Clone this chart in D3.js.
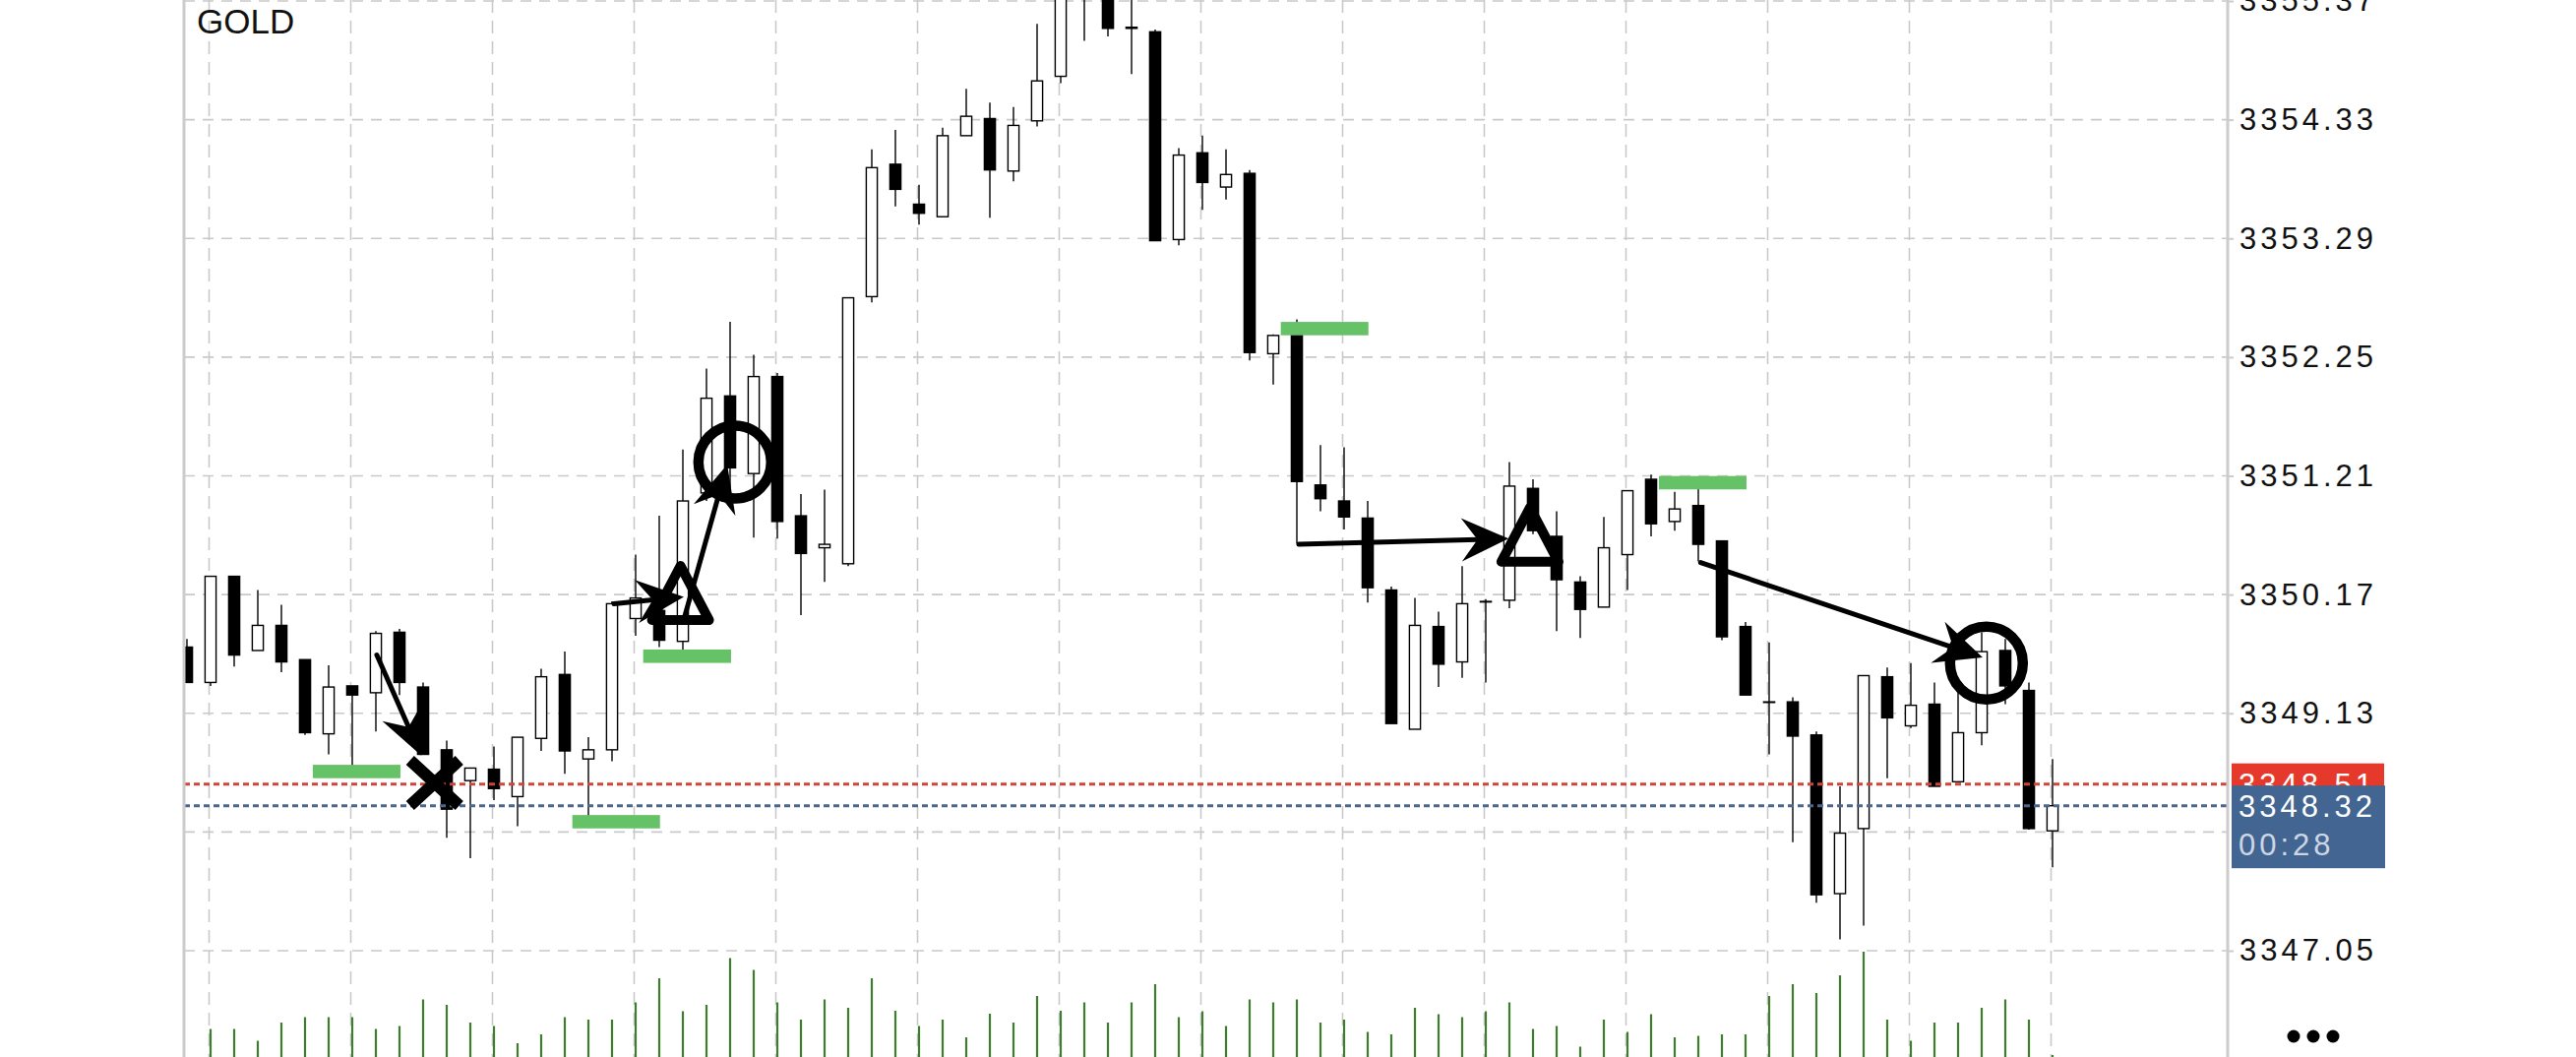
<!DOCTYPE html>
<html><head><meta charset="utf-8">
<script src="https://cdn.jsdelivr.net/npm/d3@7"></script>
<style>html,body{margin:0;padding:0;background:#fff;overflow:hidden}</style>
</head><body>
<svg id="chart" width="2618" height="1074"></svg>
<script>
// ---------------- DATA ----------------
const symbol = "GOLD";
const candleIndex = d3.range(80);
const open = [3349.71,3349.40,3350.33,3349.68,3349.90,3349.60,3348.95,3349.37,3349.31,3349.84,
3349.36,3348.81,3348.54,3348.64,3348.40,3348.91,3349.47,3348.73,3348.81,3349.96,
3350.03,3349.76,3351.06,3351.91,3351.23,3352.08,3350.86,3350.58,3350.44,3352.78,
3353.94,3353.59,3353.48,3354.19,3354.34,3353.88,3354.32,3354.71,3355.77,3355.55,
3355.13,3355.10,3353.28,3354.04,3353.74,3353.86,3352.28,3352.44,3351.13,3350.99,
3350.84,3350.21,3348.99,3349.89,3349.58,3350.11,3350.12,3351.10,3350.68,3350.28,
3350.06,3350.52,3351.18,3350.81,3350.95,3350.64,3349.89,3349.23,3349.23,3348.94,
3347.55,3348.12,3349.45,3349.02,3349.21,3348.53,3348.96,3349.68,3349.33,3348.10];
const high = [3349.78,3350.33,3350.33,3350.21,3350.08,3349.60,3349.55,3349.37,3349.85,3349.87,
3349.40,3348.89,3348.65,3348.84,3348.92,3349.52,3349.67,3348.92,3350.11,3350.52,
3350.86,3351.44,3352.15,3352.56,3352.27,3352.11,3351.05,3351.09,3352.77,3354.07,
3354.24,3353.76,3354.26,3354.60,3354.48,3354.44,3355.17,3355.64,3355.90,3355.64,
3355.46,3355.12,3354.08,3354.19,3354.07,3353.89,3352.45,3352.58,3351.48,3351.46,
3350.99,3350.24,3350.14,3350.02,3350.42,3350.13,3351.33,3351.18,3350.90,3350.33,
3350.85,3351.08,3351.22,3351.07,3351.10,3350.64,3349.93,3349.75,3349.27,3348.97,
3348.49,3349.46,3349.53,3349.57,3349.40,3349.34,3349.84,3349.78,3349.40,3348.73];
const low = [3349.40,3349.37,3349.54,3349.68,3349.49,3348.94,3348.77,3348.67,3348.97,3349.29,
3348.77,3348.04,3347.86,3348.37,3348.14,3348.80,3348.60,3348.23,3348.71,3349.81,
3349.71,3349.68,3350.99,3351.07,3350.67,3350.66,3349.99,3350.28,3350.42,3352.73,
3353.57,3353.41,3353.48,3354.19,3353.47,3353.79,3354.27,3354.65,3355.02,3355.06,
3354.73,3353.27,3353.23,3353.54,3353.63,3352.22,3352.01,3350.62,3350.90,3350.74,
3350.10,3349.04,3348.99,3349.36,3349.44,3349.40,3350.05,3350.70,3349.85,3349.79,
3350.06,3350.21,3350.68,3350.73,3350.46,3349.77,3349.29,3348.77,3348.00,3347.47,
3347.15,3347.27,3348.56,3349.00,3348.49,3348.53,3348.85,3349.21,3348.11,3347.78];
const close = [3349.40,3350.33,3349.64,3349.90,3349.58,3348.96,3349.36,3349.29,3349.83,3349.40,
3348.77,3348.29,3348.65,3348.47,3348.92,3349.45,3348.80,3348.81,3350.09,3350.14,
3349.77,3350.99,3351.89,3351.28,3352.08,3350.81,3350.53,3350.61,3352.77,3353.91,
3353.72,3353.51,3354.19,3354.36,3353.89,3354.28,3354.67,3355.51,3355.59,3355.13,
3355.14,3353.27,3354.02,3353.78,3353.85,3352.29,3352.44,3351.16,3351.01,3350.85,
3350.23,3349.04,3349.90,3349.56,3350.09,3350.11,3351.12,3350.73,3350.30,3350.04,
3350.58,3351.08,3350.79,3350.92,3350.61,3349.80,3349.29,3349.23,3348.93,3347.54,
3348.08,3349.46,3349.09,3349.20,3348.49,3348.96,3349.67,3349.37,3348.12,3348.32];
const volume = [40,129,129,105,142,153,153,153,129,135,
189,178,142,135,100,118,153,148,148,183,
232,165,178,273,249,183,148,189,172,232,
166,135,148,112,160,142,196,166,183,142,
183,220,153,165,135,189,183,189,142,148,
123,118,172,159,153,165,183,129,135,93,
148,123,159,112,115,118,118,196,220,202,
238,286,148,105,142,142,172,189,148,76];
const gridPrices = [3355.37,3354.33,3353.29,3352.25,3351.21,3350.17,3349.13,3348.09,3347.05];
const tickLabels = [3355.37,3354.33,3353.29,3352.25,3351.21,3350.17,3349.13,3347.05]; // 3348.09 sits under the price boxes
const gridCandles = d3.range(1, 80, 6);             // vertical grid every 6 bars
const askPrice = 3348.51, bidPrice = 3348.32, countdown = "00:28";
const greenFrom  = [5.33, 16.32, 19.32, 46.32, 62.33];
const greenTo    = [9.04, 20.03, 23.04, 50.03, 66.04];
const greenPrice = [3348.62, 3348.18, 3349.63, 3352.50, 3351.15];
const arrowFromI = [8.04, 18.08, 21.04, 47.08, 64.10];
const arrowFromP = [3349.64, 3350.09, 3349.95, 3350.61, 3350.45];
const arrowToI   = [9.92, 21.04, 22.88, 55.97, 76.04];
const arrowToP   = [3348.76, 3350.15, 3351.31, 3350.66, 3349.62];
const circleI = [23.2, 76.2], circleP = [3351.33, 3349.57];
const triangleI = [20.9, 56.87], triangleP = [3350.18, 3350.69];
const crossI = [10.49], crossP = [3348.52];

// ---------------- LAYOUT ----------------
const W = 2618, H = 1074, plotL = 187, plotR = 2264;
const x = d3.scaleLinear().domain([0, 79]).range([190, 2086]);
const y = d3.scaleLinear().domain([3347.05, 3355.37]).range([966, 1]);
const yVol = d3.scaleLinear().domain([0, 300]).range([1110, 960]);
const gridColor = "#c9c9c9";
const svg = d3.select("#chart");
svg.append("rect").attr("width", W).attr("height", H).attr("fill", "#fff");
svg.append("defs").append("clipPath").attr("id", "plot")
  .append("rect").attr("x", plotL).attr("y", 0).attr("width", plotR - plotL).attr("height", H);
const plot = svg.append("g").attr("clip-path", "url(#plot)");

// grid
plot.append("g").selectAll("line").data(gridPrices).join("line")
  .attr("x1", plotL).attr("x2", plotR).attr("y1", d => y(d)).attr("y2", d => y(d))
  .attr("stroke", gridColor).attr("stroke-width", 1.6).attr("stroke-dasharray", "11,8");
plot.append("g").selectAll("line").data(gridCandles).join("line")
  .attr("x1", d => x(d) - 1.5).attr("x2", d => x(d) - 1.5).attr("y1", 0).attr("y2", H)
  .attr("stroke", gridColor).attr("stroke-width", 1.6).attr("stroke-dasharray", "13,8");

// volumes
plot.append("g").selectAll("line").data(candleIndex).join("line")
  .attr("x1", i => x(i)).attr("x2", i => x(i))
  .attr("y1", yVol(0)).attr("y2", i => yVol(volume[i]))
  .attr("stroke", "#3f7d2e").attr("stroke-width", 2.2);

// candles
const bw = 11.2;
const cg = plot.append("g");
cg.selectAll("line").data(candleIndex).join("line")
  .attr("x1", i => x(i)).attr("x2", i => x(i))
  .attr("y1", i => y(high[i])).attr("y2", i => y(low[i]))
  .attr("stroke", "#000").attr("stroke-width", 1.4);
cg.selectAll("rect").data(candleIndex).join("rect")
  .attr("x", i => x(i) - bw / 2)
  .attr("y", i => y(Math.max(open[i], close[i])))
  .attr("width", bw)
  .attr("height", i => Math.max(0.6, Math.abs(y(open[i]) - y(close[i]))))
  .attr("fill", i => close[i] >= open[i] ? "#fff" : "#000")
  .attr("stroke", "#000").attr("stroke-width", 1.4);

// bid / ask lines
plot.append("line").attr("x1", plotL).attr("x2", plotR).attr("y1", y(askPrice)).attr("y2", y(askPrice))
  .attr("stroke", "#d2433a").attr("stroke-width", 3).attr("stroke-dasharray", "6,4");
plot.append("line").attr("x1", plotL).attr("x2", plotR).attr("y1", y(bidPrice)).attr("y2", y(bidPrice))
  .attr("stroke", "#4b6791").attr("stroke-width", 3).attr("stroke-dasharray", "6,4");

// green zones
plot.append("g").selectAll("rect").data(greenPrice).join("rect")
  .attr("x", (d, k) => x(greenFrom[k])).attr("width", (d, k) => x(greenTo[k]) - x(greenFrom[k]))
  .attr("y", d => y(d) - 6.8).attr("height", 13.6).attr("fill", "#66c266");

// arrows
const ag = plot.append("g");
arrowFromI.forEach((fi, k) => {
  const x0 = x(fi), y0 = y(arrowFromP[k]), x1 = x(arrowToI[k]), y1 = y(arrowToP[k]);
  const len = Math.hypot(x1 - x0, y1 - y0), ux = (x1 - x0) / len, uy = (y1 - y0) / len;
  const nx = -uy, ny = ux, L = 48, Wd = 22;
  const bx = x1 - L * ux, by = y1 - L * uy, qx = x1 - 0.66 * L * ux, qy = y1 - 0.66 * L * uy;
  ag.append("line").attr("x1", x0).attr("y1", y0).attr("x2", qx).attr("y2", qy)
    .attr("stroke", "#000").attr("stroke-width", 5).attr("stroke-linecap", "round");
  ag.append("path").attr("d", `M${x1},${y1}L${bx + Wd * nx},${by + Wd * ny}L${qx},${qy}L${bx - Wd * nx},${by - Wd * ny}Z`)
    .attr("fill", "#000");
});

// circles
plot.append("g").selectAll("circle").data(circleI).join("circle")
  .attr("cx", d => x(d)).attr("cy", (d, k) => y(circleP[k])).attr("r", 37)
  .attr("fill", "none").attr("stroke", "#000").attr("stroke-width", 10.5);

// triangles
plot.append("g").selectAll("path").data(triangleI).join("path")
  .attr("d", (d, k) => { const cx = x(d), cy = y(triangleP[k]);
    return `M${cx},${cy - 28}L${cx + 29},${cy + 27}L${cx - 29},${cy + 27}Z`; })
  .attr("fill", "none").attr("stroke", "#000").attr("stroke-width", 10).attr("stroke-linejoin", "round");

// cross
crossI.forEach((ci, k) => {
  const cx = x(ci), cy = y(crossP[k]);
  plot.append("path").attr("d", `M${cx - 25},${cy - 23}L${cx + 25},${cy + 23}M${cx + 25},${cy - 23}L${cx - 25},${cy + 23}`)
    .attr("stroke", "#000").attr("stroke-width", 12).attr("stroke-linecap", "butt");
});

// borders
svg.append("line").attr("x1", plotL).attr("x2", plotL).attr("y1", 0).attr("y2", H).attr("stroke", "#cccccc").attr("stroke-width", 3);
svg.append("line").attr("x1", plotR).attr("x2", plotR).attr("y1", 0).attr("y2", H).attr("stroke", "#cccccc").attr("stroke-width", 3);

// y axis
const fontFam = "'Liberation Sans', Arial, sans-serif";
const axis = svg.append("g").attr("transform", `translate(${plotR},0)`)
  .call(d3.axisRight(y).tickValues(tickLabels).tickFormat(d3.format(".2f")).tickSize(6).tickPadding(6));
axis.select(".domain").remove();
axis.selectAll(".tick line").attr("stroke", "#cccccc").attr("stroke-width", 2);
axis.selectAll(".tick text").attr("fill", "#111").style("font-family", fontFam)
  .style("font-size", "31px").style("letter-spacing", "4px");

// price boxes
const fmt = d3.format(".2f");
svg.append("rect").attr("x", 2268).attr("y", y(askPrice) - 21).attr("width", 155).attr("height", 42).attr("fill", "#e5392c");
svg.append("text").attr("x", 2275).attr("y", y(askPrice)).attr("dy", "0.36em").text(fmt(askPrice))
  .attr("fill", "#fff").style("font-family", fontFam).style("font-size", "31px").style("letter-spacing", "4px");
svg.append("rect").attr("x", 2268).attr("y", y(bidPrice) - 20.5).attr("width", 156).attr("height", 84).attr("fill", "#436591");
svg.append("text").attr("x", 2275).attr("y", y(bidPrice)).attr("dy", "0.36em").text(fmt(bidPrice))
  .attr("fill", "#fff").style("font-family", fontFam).style("font-size", "31px").style("letter-spacing", "4px");
svg.append("text").attr("x", 2275).attr("y", y(bidPrice) + 39.5).attr("dy", "0.36em").text(countdown)
  .attr("fill", "#cdd6e4").style("font-family", fontFam).style("font-size", "31px").style("letter-spacing", "4px");

// symbol
svg.append("text").attr("x", 200).attr("y", 34).text(symbol).attr("fill", "#111")
  .style("font-family", fontFam).style("font-size", "35px");

// menu dots
svg.append("g").selectAll("circle").data([0, 1, 2]).join("circle")
  .attr("cx", d => 2331 + d * 20).attr("cy", 1053).attr("r", 6.5).attr("fill", "#000");
</script>
</body></html>
